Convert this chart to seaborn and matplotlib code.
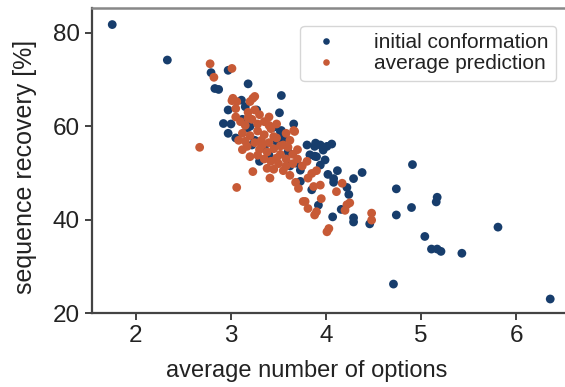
import matplotlib
matplotlib.use("Agg")
import matplotlib.pyplot as plt
import seaborn as sns
import pandas as pd

# initial conformation
init_x = [1.75, 2.33, 2.79, 2.97, 2.83, 2.87, 3.18, 3.53, 3.51, 2.97, 2.92, 2.97, 3.11, 3.15,
          3.27, 3.66, 3.53, 3.17, 3.20, 3.52, 3.55, 3.48, 3.80, 3.88, 3.94, 4.01, 4.06, 3.89,
          3.83, 3.90, 3.99, 3.88, 3.94, 3.69, 3.73, 4.02, 4.08, 4.08, 4.38, 4.29, 4.22, 4.24,
          3.85, 3.92, 4.16, 4.07, 4.29, 4.29, 4.46, 3.73, 4.91, 4.74, 4.90, 4.74, 5.17, 5.16,
          5.04, 5.11, 5.17, 5.21, 5.43, 5.81, 4.71, 6.36, 3.97, 3.25, 3.35, 3.40, 3.30, 3.60,
          3.45, 3.05, 3.22, 3.62, 3.12, 3.00, 4.12]
init_y = [81.8, 74.2, 71.5, 72.0, 68.1, 67.9, 69.1, 66.6, 62.9, 63.5, 60.6, 58.5, 65.6, 64.2,
          63.5, 60.5, 59.1, 59.6, 60.0, 58.9, 57.4, 56.7, 56.0, 55.7, 56.0, 55.7, 56.2, 56.4,
          53.9, 53.5, 52.8, 53.6, 51.7, 52.1, 50.6, 49.7, 48.8, 48.0, 50.1, 48.8, 46.9, 45.4,
          46.4, 43.1, 42.2, 40.6, 40.4, 39.5, 39.1, 48.2, 51.8, 46.6, 42.6, 41.0, 44.8, 43.8,
          36.4, 33.7, 33.7, 33.2, 32.8, 38.4, 26.2, 23.0, 54.9, 57.0, 55.5, 53.8, 52.5, 54.5,
          59.8, 57.5, 56.0, 51.5, 61.5, 60.5, 50.5]

# average prediction
pred_x = [2.78, 2.82, 3.01, 3.01, 3.23, 2.67, 3.66, 3.17, 3.23, 3.06, 3.41, 3.71, 3.94, 3.76,
          3.81, 3.90, 4.01, 4.03, 4.17, 4.11, 3.87, 3.78, 4.25, 4.22, 4.48, 4.48, 3.85, 3.81,
          3.67, 3.20, 3.06, 3.02, 3.25, 3.05, 3.10, 3.15, 3.22, 3.30, 3.35, 3.12, 3.20, 3.28,
          3.35, 3.42, 3.25, 3.32, 3.40, 3.48, 3.55, 3.30, 3.38, 3.45, 3.52, 3.60, 3.35, 3.42,
          3.50, 3.58, 3.65, 3.28, 3.62, 3.70, 3.70, 3.75, 3.15, 3.08, 3.45, 3.55, 3.62, 3.38,
          3.20, 3.48, 3.40, 3.58, 3.25, 3.18, 3.80, 3.90, 3.95, 3.68, 4.20, 3.88, 3.05,
          3.12, 3.28, 3.45, 3.52, 3.58, 3.65, 3.33, 3.40, 3.18, 3.48]
pred_y = [73.4, 70.5, 72.4, 65.5, 66.0, 55.5, 59.1, 55.7, 50.3, 46.9, 48.9, 46.7, 47.4, 43.9,
          42.4, 41.7, 37.4, 38.1, 47.8, 46.0, 47.1, 43.9, 43.6, 43.2, 41.4, 39.9, 49.9, 48.9,
          58.9, 65.3, 65.3, 66.0, 66.4, 62.0, 61.0, 60.2, 61.5, 62.5, 61.0, 58.5, 58.0, 59.0,
          58.2, 59.5, 56.5, 57.0, 56.5, 57.5, 56.0, 55.0, 54.5, 55.2, 54.0, 55.5, 53.0, 52.5,
          52.0, 53.0, 52.0, 53.8, 57.0, 55.0, 53.0, 51.5, 56.8, 57.0, 50.8, 50.5, 49.5, 51.0,
          53.5, 60.5, 62.0, 58.5, 63.5, 63.0, 52.5, 50.5, 44.5, 48.0, 42.0, 41.0, 63.8,
          55.0, 60.5, 57.8, 55.8, 51.5, 54.0, 56.0, 60.2, 61.8, 53.2]

series_names = ["initial conformation", "average prediction"]
xlabel = "average number of options"
ylabel = "sequence recovery [%]"
xticks = [2, 3, 4, 5, 6]
yticks = [20, 40, 60, 80]

df = pd.concat([
    pd.DataFrame({"x": init_x, "y": init_y, "series": series_names[0]}),
    pd.DataFrame({"x": pred_x, "y": pred_y, "series": series_names[1]}),
], ignore_index=True)

sns.set_style("white")
plt.rcParams['font.family'] = ['Liberation Sans', 'DejaVu Sans']

W, H = 565, 387
fig = plt.figure(figsize=(W / 100, H / 100), dpi=100)
ax = fig.add_axes([92 / W, (H - 313) / H, (568 - 92) / W, (313 - 8) / H])

palette = {series_names[0]: "#173d6c", series_names[1]: "#c75a36"}
sns.scatterplot(data=df, x="x", y="y", hue="series", palette=palette, s=40,
                linewidth=0, ax=ax, legend=True)

ax.set_xlim(1.537, 6.547)
ax.set_ylim(20, 85.35)
ax.set_xticks(xticks)
ax.set_yticks(yticks)
ax.tick_params(axis="both", which="major", labelsize=17.5, length=5, width=1.3,
               direction="out", color="#333333", labelcolor="#222222", pad=4,
               bottom=True, left=True)
for side in ["left", "bottom"]:
    ax.spines[side].set_color("#444444")
    ax.spines[side].set_linewidth(1.6)
ax.spines["top"].set_color("#888888")
ax.spines["top"].set_linewidth(1.8)
ax.spines["right"].set_visible(False)

ax.set_xlabel(xlabel, fontsize=17, color="#222222")
ax.xaxis.set_label_coords(0.45, -0.155)
ax.set_ylabel(ylabel, fontsize=18, color="#222222")
ax.yaxis.set_label_coords(-0.115, 0.48)

leg = ax.legend(loc="upper right", bbox_to_anchor=(0.997, 0.975), fontsize=15,
                frameon=True, handletextpad=1.4, markerscale=0.75, borderpad=0.35,
                labelspacing=0.1, handlelength=1.8, fancybox=True)
leg.get_frame().set_edgecolor("#cccccc")
leg.get_frame().set_linewidth(1.0)
for t in leg.get_texts():
    t.set_color("#222222")

fig.savefig("out.png", dpi=100)
